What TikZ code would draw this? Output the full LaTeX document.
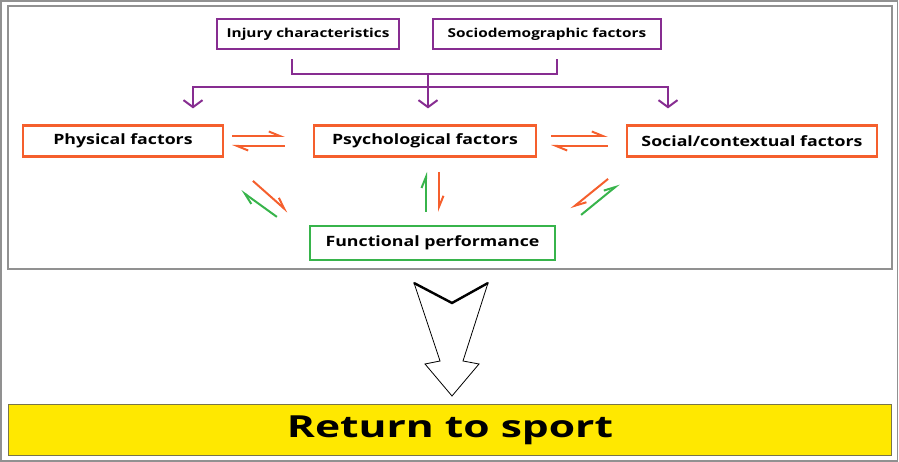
\documentclass[tikz,border=0pt]{standalone}
\usepackage{graphicx}
\usepackage{fontspec}
\setmainfont{Open Sans}
\usetikzlibrary{arrows.meta,calc}

\definecolor{purp}{RGB}{135,45,145}
\definecolor{orng}{RGB}{245,95,45}
\definecolor{grn}{RGB}{55,180,75}
\definecolor{yell}{RGB}{255,232,0}
\definecolor{framegray}{RGB}{145,145,145}

% the labels are set wide
\newcommand{\widetext}[2][1.25]{\scalebox{#1}[1]{#2}}

\begin{document}
\begin{tikzpicture}[x=1pt,y=1pt,
    box/.style={rectangle,draw,line width=2.2pt,fill=white,inner sep=0pt,font=\bfseries\fontsize{14.2}{16}\selectfont},
    srcbox/.style={box,draw=purp,minimum height=30,font=\bfseries\fontsize{12.3}{14}\selectfont},
    factor/.style={box,draw=orng,minimum height=31},
    funcbox/.style={box,draw=grn,minimum height=34},
    link/.style={draw=purp,line width=2pt},
    down/.style={-{Straight Barb[length=7pt,width=19pt]}},
    harp/.style={line width=2pt,-{Straight Barb[harpoon,length=11pt,width=9pt]}}
]
    \useasboundingbox (0,0) rectangle (899,462);

    % frames
    \draw[framegray,line width=1.5pt] (1,1) rectangle (897.5,461);
    \draw[framegray,line width=2pt] (8,193) rectangle (892,456);

    % influences on top
    \node[srcbox,minimum width=182] (inj) at (308,428) {\widetext{Injury characteristics}};
    \node[srcbox,minimum width=228] (socio) at (547,428) {\widetext{Sociodemographic factors}};

    % the three factors
    \node[factor,minimum width=200] (phys) at (123,321) {\widetext{Physical factors}};
    \node[factor,minimum width=222] (psy) at (425,321) {\widetext{Psychological factors}};
    \node[factor,minimum width=250] (soc) at (752,321) {\widetext{Social/contextual factors}};

    \node[funcbox,minimum width=245] (func) at (432.5,219) {\widetext{Functional performance}};

    % purple bracket and arrows
    \draw[link] ($(inj.south)+(-16,-9)$) |- ($(socio.south)+(10,-24)$) -- ($(socio.south)+(10,-9)$);
    \coordinate (mid) at (428,389);
    \draw[link] (mid) -- ++(0,-14) coordinate (hub);
    \draw[link,down] (hub) -| ($(phys.north)+(70,16)$);
    \draw[link,down] (hub) -| ($(soc.north)+(-84,16)$);
    \draw[link,down] (hub) -- ($(psy.north)+(3,16)$);

    % exchanges between factors
    \draw[harp,orng] ($(phys.east)+(8,5)$) -- ($(psy.west)+(-28,5)$);
    \draw[harp,orng] ($(psy.west)+(-28,-5)$) -- ($(phys.east)+(8,-5)$);
    \draw[harp,orng] ($(psy.east)+(14,5)$) -- ($(soc.west)+(-18,5)$);
    \draw[harp,orng] ($(soc.west)+(-18,-5)$) -- ($(psy.east)+(14,-5)$);

    % exchanges with functional performance
    \draw[harp,orng] ($(func.north west)+(-56,44)$) -- ($(func.north west)+(-21,13)$);
    \draw[harp,grn] ($(func.north west)+(-32,8)$) -- ($(func.north west)+(-68,34)$);
    \draw[harp,grn] ($(func.north)+(-6.5,13)$) -- ($(func.north)+(-6.5,53)$);
    \draw[harp,orng] ($(func.north)+(6.5,53)$) -- ($(func.north)+(6.5,13)$);
    \draw[harp,orng] ($(func.north east)+(52,46)$) -- ($(func.north east)+(15,16)$);
    \draw[harp,grn] ($(func.north east)+(25,10)$) -- ($(func.north east)+(63,41)$);

    % big hollow arrow
    \draw[line width=0.8pt,fill=white] (414,179) -- (452,159) -- (488,179) -- (463,101) -- (479,98)
        -- (452,66) -- (425,98) -- (440,101) -- cycle;
    \draw[line width=2.4pt] (414,179) -- (452,159) -- (488,179);

    % result
    \node[rectangle,draw=black!60!yellow,line width=1pt,fill=yell,minimum width=883,minimum height=51,
        font=\fontsize{30.4}{34}\selectfont\bfseries] (rts) at (450,31.5) {\widetext[1.4]{Return to sport}};
\end{tikzpicture}
\end{document}
